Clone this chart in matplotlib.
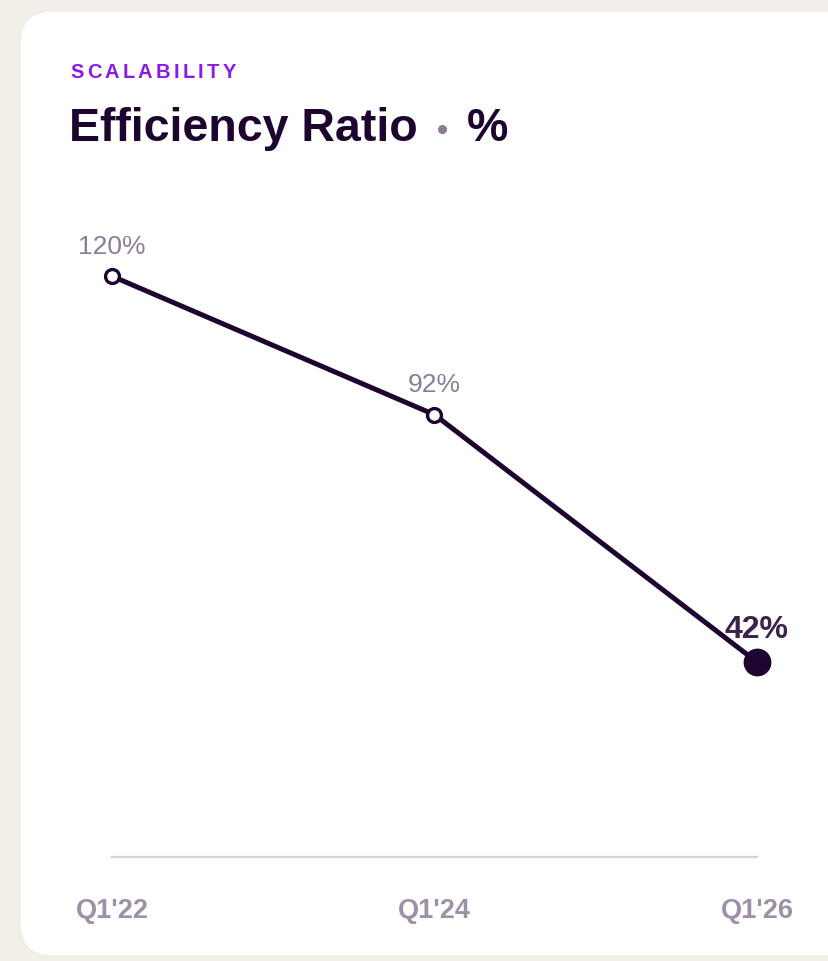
import matplotlib
matplotlib.use("Agg")
import matplotlib.pyplot as plt
from matplotlib.patches import FancyBboxPatch
from matplotlib.lines import Line2D
from matplotlib.transforms import IdentityTransform

# data
quarters = ["Q1'22", "Q1'24", "Q1'26"]
efficiency = [120, 92, 42]
value_labels = ["120%", "92%", "42%"]

W, H = 829, 962
BG = "#f2efe8"
DARK = "#1e0530"
MUTED = "#8b7d95"
TICK = "#9e90a8"
ACCENT = "#8a1be6"

plt.rcParams["font.family"] = ["Liberation Sans", "DejaVu Sans"]

fig = plt.figure(figsize=(W / 100, H / 100), dpi=100, facecolor=BG)

# white card (pixel coords, bottom-left origin), behind the axes
card = FancyBboxPatch((20, H - 957), 860, 945,
                      boxstyle="round,pad=0,rounding_size=32",
                      transform=IdentityTransform(),
                      facecolor="white", edgecolor="#ebe8e3", linewidth=0.8,
                      zorder=-10)
fig.patches.append(card)


def px(x, y):
    return x / W, 1 - y / H


# eyebrow with letter spacing
renderer = fig.canvas.get_renderer()
x = 70
for ch in "SCALABILITY":
    t = fig.text(*px(x, 78), ch, fontsize=14.5, fontweight="bold",
                 color=ACCENT, va="baseline", ha="left")
    x += t.get_window_extent(renderer).width + 3.3

# title
fig.text(*px(69, 141), "Efficiency Ratio", fontsize=33.5, fontweight="bold",
         color=DARK, va="baseline", ha="left")
fig.add_artist(Line2D([442 / W], [1 - 130 / H], marker="o", markersize=5.5,
                      color=MUTED, transform=fig.transFigure))
fig.text(*px(467, 141), "%", fontsize=33.5, fontweight="bold",
         color=DARK, va="baseline", ha="left")

# chart area
left, right = 112, 757
top, bottom = 200, 858
ax = fig.add_axes([left / W, 1 - bottom / H, (right - left) / W, (bottom - top) / H])
ax.set_facecolor("none")

xs = list(range(len(quarters)))
ax.plot(xs, efficiency, color=DARK, linewidth=3.6, solid_capstyle="round",
        solid_joinstyle="round", zorder=2, clip_on=False)
ax.plot(xs[:-1], efficiency[:-1], linestyle="none", marker="o", markersize=10,
        markerfacecolor="white", markeredgecolor=DARK, markeredgewidth=2.4,
        zorder=3, clip_on=False)
ax.plot(xs[-1:], efficiency[-1:], linestyle="none", marker="o", markersize=19,
        color=DARK, zorder=3, clip_on=False)

for i, (v, lab) in enumerate(zip(efficiency, value_labels)):
    last = i == len(efficiency) - 1
    ax.annotate(lab, (xs[i], v), xytext=(0, 18 if last else 17),
                textcoords="offset points", ha="center", va="baseline",
                fontsize=23 if last else 19,
                fontweight="bold" if last else "normal",
                color="#3a2449" if last else MUTED, zorder=4)

ax.set_xlim(0, len(quarters) - 1)
ax.set_ylim(2.6, 135.6)
ax.set_yticks([])
ax.set_xticks(xs)
ax.set_xticklabels(quarters, fontsize=19.5, fontweight="bold", color=TICK)
ax.tick_params(axis="x", length=0, pad=29)
for s in ["top", "left", "right"]:
    ax.spines[s].set_visible(False)
ax.spines["bottom"].set_color("#d6d1dc")
ax.spines["bottom"].set_linewidth(1.6)

fig.savefig("out.png", dpi=100, facecolor=BG)
